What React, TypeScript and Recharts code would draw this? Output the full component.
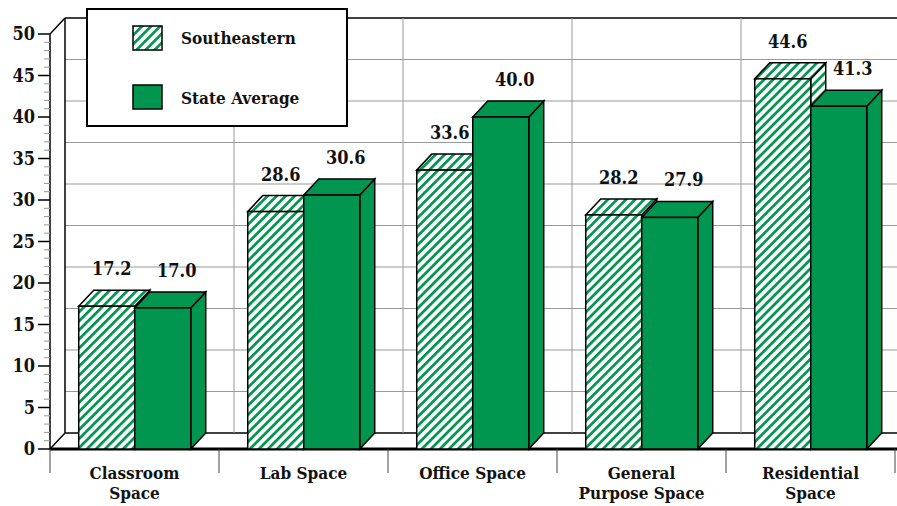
import React from 'react';
import { BarChart, Bar, XAxis, YAxis, CartesianGrid, Legend, LabelList } from 'recharts';

const categories = ['Classroom\nSpace', 'Lab Space', 'Office Space', 'General\nPurpose Space', 'Residential\nSpace'];
const southeastern = [17.2, 28.6, 33.6, 28.2, 44.6];
const stateAverage = [17.0, 30.6, 40.0, 27.9, 41.3];
const yMajorTicks = [0, 5, 10, 15, 20, 25, 30, 35, 40, 45, 50];
const yAllTicks = Array.from({ length: 51 }, (_, i) => i);

const data = categories.map((name, i) => ({
  name,
  southeastern: southeastern[i],
  stateAverage: stateAverage[i],
}));

const GREEN = '#00964f';
const TEXT_STYLE = { fontFamily: '"DejaVu Serif Condensed", "DejaVu Serif", serif', fontWeight: 700 } as const;
const DX = 15;
const DY = 16;
const CHART_W = 897;
const CHART_H = 506;
const PLOT_TOP = 34;
const PLOT_BOTTOM = 449;
const PLOT_LEFT = 50;
const PLOT_RIGHT = 895;
const BAND = (PLOT_RIGHT - PLOT_LEFT) / categories.length;
const HATCH = 6.4;

const Bar3D = (props: any) => {
  const { x, y, width, height, fill } = props;
  if (!width || height == null) return null;
  const stroke = { stroke: '#000', strokeWidth: 1.5, strokeLinejoin: 'miter' as const };
  return (
    <g>
      <polygon
        points={`${x + width},${y} ${x + width + DX},${y - DY} ${x + width + DX},${y + height - DY} ${x + width},${y + height}`}
        fill={fill}
        {...stroke}
      />
      <polygon
        points={`${x},${y} ${x + DX},${y - DY} ${x + width + DX},${y - DY} ${x + width},${y}`}
        fill={fill}
        {...stroke}
      />
      <rect x={x} y={y} width={width} height={height} fill={fill} {...stroke} />
    </g>
  );
};

const valueLabel = (offset: number) => (props: any) => {
  const { x, y, width, value } = props;
  return (
    <text
      x={Number(x) + Number(width) / 2 + offset}
      y={Number(y) - 31}
      textAnchor="middle"
      style={{ ...TEXT_STYLE, fontSize: 18 }}
      fill="#111"
    >
      {Number(value).toFixed(1)}
    </text>
  );
};

const YTick = (props: any) => {
  const { x, y, payload } = props;
  const v = payload.value;
  if (v % 5 !== 0) {
    return <line x1={x - 6} x2={x} y1={y} y2={y} stroke="#999" strokeWidth={1} />;
  }
  return (
    <g>
      <line x1={x - 12} x2={x} y1={y} y2={y} stroke="#000" strokeWidth={1.5} />
      <text x={x - 15} y={y + 6} textAnchor="end" style={{ ...TEXT_STYLE, fontSize: 18 }} fill="#111">
        {v}
      </text>
    </g>
  );
};

const XTick = (props: any) => {
  const { x, y, payload, index } = props;
  const lines = String(payload.value).split('\n');
  const half = BAND / 2;
  return (
    <g>
      <line x1={x - half} x2={x - half} y1={y} y2={y + 24} stroke="#444" strokeWidth={1} />
      {index === categories.length - 1 && (
        <line x1={x + half} x2={x + half} y1={y} y2={y + 24} stroke="#444" strokeWidth={1} />
      )}
      <text x={x} y={y + 30} textAnchor="middle" style={{ ...TEXT_STYLE, fontSize: 17 }} fill="#111">
        {lines.map((l, i) => (
          <tspan key={i} x={x} dy={i === 0 ? 0 : 20}>
            {l}
          </tspan>
        ))}
      </text>
    </g>
  );
};

const renderHLine = (p: any) => {
  const { x1, x2, y1 } = p;
  const bottom = Math.abs(y1 - PLOT_BOTTOM) < 0.5;
  const top = Math.abs(y1 - PLOT_TOP) < 0.5;
  const edge = top || bottom;
  return (
    <g key={`h-${y1}`}>
      <line
        x1={x1 + DX}
        y1={y1 - DY}
        x2={x2 + DX}
        y2={y1 - DY}
        stroke={edge ? '#000' : '#999'}
        strokeWidth={edge ? 1.5 : 1}
      />
      {edge && <line x1={x1} y1={y1} x2={x1 + DX} y2={y1 - DY} stroke="#000" strokeWidth={1.5} />}
      {bottom && <line x1={x1} y1={y1} x2={x2 + DX} y2={y1} stroke="#000" strokeWidth={3} />}
    </g>
  );
};

const renderVLine = (p: any) => {
  const { x1, y1, y2 } = p;
  const left = Math.abs(x1 - PLOT_LEFT) < 0.5;
  return (
    <line
      key={`v-${x1}`}
      x1={x1 + DX}
      y1={y1 - DY}
      x2={x1 + DX}
      y2={y2 - DY}
      stroke={left ? '#000' : '#999'}
      strokeWidth={left ? 1.5 : 1}
    />
  );
};

const categoryBounds = ({ offset }: any) => {
  const left = offset?.left ?? PLOT_LEFT;
  const w = offset?.width ?? PLOT_RIGHT - PLOT_LEFT;
  return categories.map((_, i) => left + (i * w) / categories.length);
};

const renderLegend = (props: any) => {
  const { payload = [] } = props;
  return (
    <svg width={262} height={119} style={{ display: 'block' }}>
      <rect x={1} y={1} width={260} height={117} fill="#fff" stroke="#000" strokeWidth={2} />
      {payload.map((entry: any, i: number) => (
        <g key={entry.value}>
          <rect x={47} y={18 + i * 59} width={29} height={24} fill={entry.color} stroke="#000" strokeWidth={1.5} />
          <text x={95} y={36 + i * 60} style={{ ...TEXT_STYLE, fontSize: 17 }} fill="#111">
            {entry.value}
          </text>
        </g>
      ))}
    </svg>
  );
};

export default function App() {
  return (
    <div style={{ position: 'absolute', left: 0, top: 0, width: CHART_W, height: CHART_H, overflow: 'hidden', background: '#fff' }}>
      <BarChart
        width={CHART_W}
        height={CHART_H}
        data={data}
        margin={{ top: PLOT_TOP, right: CHART_W - PLOT_RIGHT, left: 0, bottom: 0 }}
        barCategoryGap="17%"
        barGap={0}
      >
        <defs>
          <pattern id="hatch" patternUnits="userSpaceOnUse" width={HATCH} height={HATCH} patternTransform="rotate(45)">
            <rect width={HATCH} height={HATCH} fill="#fff" />
            <rect width={2.7} height={HATCH} fill={GREEN} />
          </pattern>
        </defs>
        <CartesianGrid
          horizontal={renderHLine}
          vertical={renderVLine}
          horizontalValues={yMajorTicks}
          verticalCoordinatesGenerator={categoryBounds}
        />
        <XAxis
          dataKey="name"
          height={CHART_H - PLOT_BOTTOM}
          axisLine={false}
          tickLine={false}
          tickSize={0}
          tickMargin={0}
          interval={0}
          tick={<XTick />}
        />
        <YAxis
          width={PLOT_LEFT}
          domain={[0, 50]}
          ticks={yAllTicks}
          interval={0}
          tickSize={0}
          tickMargin={0}
          tickLine={false}
          axisLine={{ stroke: '#000', strokeWidth: 1.5 }}
          tick={<YTick />}
        />
        <Legend
          layout="vertical"
          align="center"
          verticalAlign="middle"
          wrapperStyle={{ position: 'absolute', top: 8, left: 86, width: 262, height: 119 }}
          content={renderLegend}
        />
        <Bar dataKey="southeastern" name="Southeastern" fill="url(#hatch)" shape={Bar3D} isAnimationActive={false}>
          <LabelList dataKey="southeastern" content={valueLabel(5)} />
        </Bar>
        <Bar dataKey="stateAverage" name="State Average" fill={GREEN} shape={Bar3D} isAnimationActive={false}>
          <LabelList dataKey="stateAverage" content={valueLabel(14)} />
        </Bar>
      </BarChart>
    </div>
  );
}
